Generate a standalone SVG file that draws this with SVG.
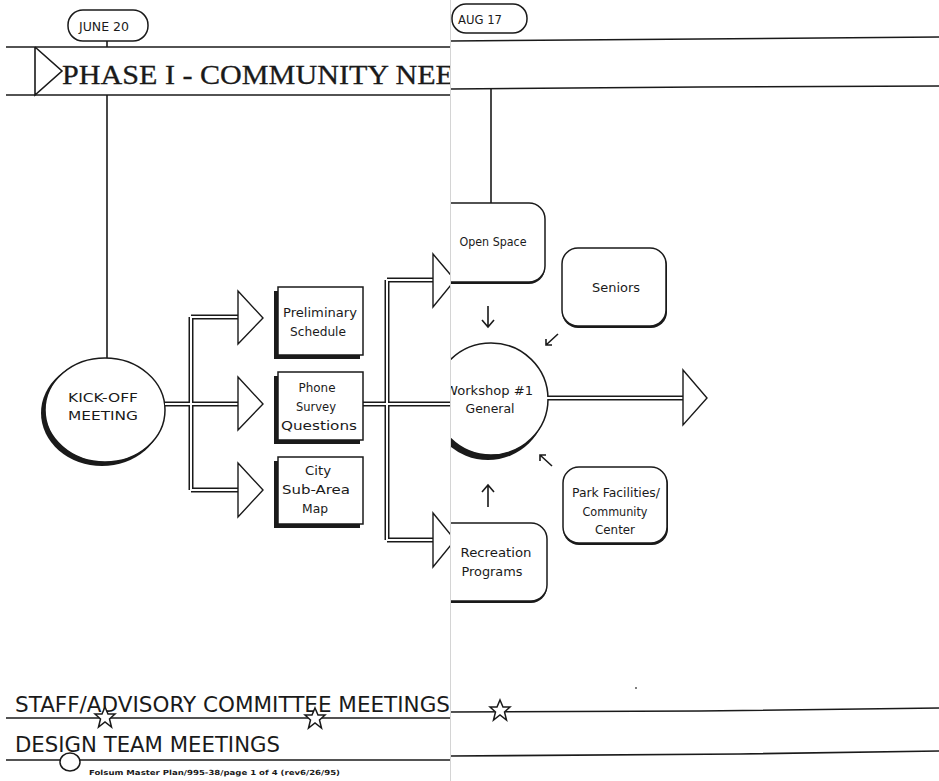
<svg xmlns="http://www.w3.org/2000/svg" width="939" height="781" viewBox="0 0 939 781">
<defs>
<style>
.ln{fill:none;stroke:#1a1a1a;stroke-width:1.6}
.dbo{fill:none;stroke:#1a1a1a;stroke-width:5;stroke-linejoin:miter}
.dbi{fill:none;stroke:#ffffff;stroke-width:2;stroke-linejoin:miter}
.ah{fill:#fff;stroke:#1a1a1a;stroke-width:1.4;stroke-linejoin:miter}
.box{fill:#fff;stroke:#1a1a1a;stroke-width:1.5}
.shd{fill:#1a1a1a}
.hand{font-family:"DejaVu Sans","Liberation Sans",sans-serif;fill:#1a1a1a;text-anchor:middle;font-size:12.5px}
.big{font-family:"DejaVu Sans","Liberation Sans",sans-serif;fill:#1a1a1a}
.serif{font-family:"Liberation Serif","DejaVu Serif",serif;fill:#1a1a1a}
</style>
<clipPath id="leftPage"><rect x="0" y="0" width="450" height="781"/></clipPath>
<clipPath id="rightPage"><rect x="451" y="0" width="488" height="781"/></clipPath>
</defs>
<rect x="0" y="0" width="939" height="781" fill="#fff"/>

<!-- LEFT PAGE -->
<g clip-path="url(#leftPage)">
  <g id="june20">
    <rect x="68" y="10" width="80" height="31" rx="15" class="box"/>
    <text x="104" y="31" class="hand" font-size="12" textLength="50" lengthAdjust="spacingAndGlyphs">JUNE 20</text>
    <line x1="107" y1="41" x2="107" y2="47" class="ln"/>
  </g>
  <g id="phase-band">
    <line x1="6" y1="47" x2="450" y2="47" class="ln"/>
    <line x1="6" y1="95" x2="450" y2="95" class="ln"/>
    <polyline points="35,47 35,95 62,71 35,47" class="ln"/>
    <text x="62" y="84" class="serif" font-size="27" stroke="#1a1a1a" stroke-width="0.3" textLength="392" lengthAdjust="spacingAndGlyphs">PHASE I - COMMUNITY NEE</text>
  </g>
  <g id="kickoff">
    <line x1="107" y1="95" x2="107" y2="358" class="ln"/>
    <ellipse cx="102" cy="413" rx="61" ry="53" class="shd"/>
    <ellipse cx="105" cy="410" rx="60" ry="52" class="box"/>
    <text x="103" y="402" class="hand" font-size="13.5" textLength="70" lengthAdjust="spacingAndGlyphs">KICK-OFF</text>
    <text x="103" y="420" class="hand" font-size="13.5" textLength="70" lengthAdjust="spacingAndGlyphs">MEETING</text>
  </g>
  <g id="connectors-left">
    <path d="M165,404 H238 M191,317 V490 M191,317 H238 M191,490 H238 M363,404 H452 M387,280 V540 M387,280 H433 M387,540 H433" class="dbo"/>
    <path d="M165,404 H238 M191,317 V490 M191,317 H238 M191,490 H238 M363,404 H452 M387,280 V540 M387,280 H433 M387,540 H433" class="dbi"/>
    <polygon points="238,291 263,318 238,344" class="ah"/>
    <polygon points="238,377 263,404 238,430" class="ah"/>
    <polygon points="238,463 263,490 238,517" class="ah"/>
    <polygon points="433,254 455,280 433,307" class="ah"/>
    <polygon points="433,513 455,540 433,567" class="ah"/>
  </g>
  <g id="prelim">
    <rect x="274" y="291" width="86" height="68" class="shd"/>
    <rect x="278" y="287" width="85" height="68" class="box"/>
    <text x="320" y="317" class="hand" textLength="74" lengthAdjust="spacingAndGlyphs">Preliminary</text>
    <text x="318" y="336" class="hand" textLength="56" lengthAdjust="spacingAndGlyphs">Schedule</text>
  </g>
  <g id="phone">
    <rect x="274" y="376" width="86" height="68" class="shd"/>
    <rect x="278" y="372" width="85" height="68" class="box"/>
    <text x="317" y="392" class="hand" textLength="37" lengthAdjust="spacingAndGlyphs">Phone</text>
    <text x="316" y="411" class="hand" textLength="40" lengthAdjust="spacingAndGlyphs">Survey</text>
    <text x="319" y="430" class="hand" textLength="76" lengthAdjust="spacingAndGlyphs">Questions</text>
  </g>
  <g id="citymap">
    <rect x="274" y="461" width="86" height="67" class="shd"/>
    <rect x="278" y="457" width="85" height="67" class="box"/>
    <text x="318" y="475" class="hand" textLength="26" lengthAdjust="spacingAndGlyphs">City</text>
    <text x="316" y="494" class="hand" textLength="68" lengthAdjust="spacingAndGlyphs">Sub-Area</text>
    <text x="315" y="513" class="hand" textLength="26" lengthAdjust="spacingAndGlyphs">Map</text>
  </g>
  <g id="staff-row">
    <text x="15" y="712" class="big" font-size="21" textLength="435" lengthAdjust="spacingAndGlyphs">STAFF/ADVISORY COMMITTEE MEETINGS</text>
    <line x1="6" y1="718" x2="450" y2="718" class="ln"/>
    <polygon points="105,707 108,714 115,714 109.5,719 111.5,727 105,722 98.5,727 100.5,719 95,714 102,714" class="box" stroke-width="1.3"/>
    <polygon points="315,708 318,715 325,715 319.5,720 321.5,728 315,723 308.5,728 310.5,720 305,715 312,715" class="box" stroke-width="1.3"/>
  </g>
  <g id="design-row">
    <text x="15" y="752" class="big" font-size="21" textLength="265" lengthAdjust="spacingAndGlyphs">DESIGN TEAM MEETINGS</text>
    <line x1="6" y1="760" x2="450" y2="760" class="ln"/>
    <ellipse cx="70" cy="762" rx="10" ry="9" class="box" stroke-width="1.6"/>
    <text x="89" y="775" class="big" font-size="7" font-weight="bold" textLength="251" lengthAdjust="spacingAndGlyphs">Folsum Master Plan/995-38/page 1 of 4 (rev6/26/95)</text>
  </g>
</g>

<!-- seam -->
<line x1="450.5" y1="0" x2="450.5" y2="781" stroke="#d4d4d4" stroke-width="1"/>

<!-- RIGHT PAGE -->
<g clip-path="url(#rightPage)">
  <g id="aug17">
    <rect x="452" y="4" width="75" height="29" rx="14" class="box"/>
    <text x="480" y="24" class="hand" font-size="11.5" textLength="44" lengthAdjust="spacingAndGlyphs">AUG 17</text>
  </g>
  <g id="right-band">
    <path d="M451,41 L700,39 L939,37" class="ln"/>
    <path d="M451,89 L700,87 L939,86" class="ln"/>
    <line x1="491" y1="89" x2="491" y2="204" class="ln"/>
  </g>
  <g id="open-space">
    <rect x="436" y="205" width="109" height="79" rx="16" class="shd"/>
    <rect x="436" y="203" width="109" height="79" rx="16" class="box"/>
    <text x="493" y="246" class="hand" font-size="12" textLength="67" lengthAdjust="spacingAndGlyphs">Open Space</text>
  </g>
  <g id="seniors">
    <rect x="562" y="250" width="105" height="78" rx="16" class="shd"/>
    <rect x="562" y="248" width="104" height="78" rx="16" class="box"/>
    <text x="616" y="292" class="hand" font-size="12" textLength="48" lengthAdjust="spacingAndGlyphs">Seniors</text>
  </g>
  <g id="workshop">
    <ellipse cx="488" cy="403" rx="58" ry="57" class="shd"/>
    <ellipse cx="491" cy="399" rx="57" ry="56" class="box"/>
    <text x="489" y="395" class="hand" textLength="88" lengthAdjust="spacingAndGlyphs">Workshop #1</text>
    <text x="490" y="413" class="hand" textLength="49" lengthAdjust="spacingAndGlyphs">General</text>
  </g>
  <g id="park">
    <rect x="563" y="469" width="105" height="76" rx="16" class="shd"/>
    <rect x="563" y="467" width="104" height="76" rx="16" class="box"/>
    <text x="616" y="497" class="hand" font-size="12" textLength="88" lengthAdjust="spacingAndGlyphs">Park Facilities/</text>
    <text x="615" y="516" class="hand" font-size="12" textLength="65" lengthAdjust="spacingAndGlyphs">Community</text>
    <text x="615" y="534" class="hand" font-size="12" textLength="40" lengthAdjust="spacingAndGlyphs">Center</text>
  </g>
  <g id="recreation">
    <rect x="436" y="525" width="111" height="78" rx="16" class="shd"/>
    <rect x="436" y="523" width="111" height="78" rx="16" class="box"/>
    <text x="496" y="557" class="hand" font-size="12.5" textLength="71" lengthAdjust="spacingAndGlyphs">Recreation</text>
    <text x="492" y="576" class="hand" font-size="12.5" textLength="61" lengthAdjust="spacingAndGlyphs">Programs</text>
  </g>
  <g id="connectors-right">
    <path d="M548,398 H683" class="dbo"/>
    <path d="M546,398 H684" class="dbi"/>
    <polygon points="683,370 707,398 683,425" class="ah"/>
    <path d="M488,306 V326 M482,320 L488,327 L494,320" class="ln" stroke-width="1.3"/>
    <path d="M558,334 L546,345 M546,339 L546,345 L552,345" class="ln" stroke-width="1.3"/>
    <path d="M552,466 L540,455 M540,461 L540,455 L546,455" class="ln" stroke-width="1.3"/>
    <path d="M488,507 V486 M482,492 L488,485 L494,492" class="ln" stroke-width="1.3"/>
  </g>
  <g id="right-rows">
    <path d="M451,712 L700,711 L939,708" class="ln"/>
    <path d="M451,756 L740,754 L939,751" class="ln"/>
    <polygon points="500,700 503,707 510,707 504.5,712 506.5,720 500,715 493.5,720 495.5,712 490,707 497,707" class="box" stroke-width="1.3"/>
    <circle cx="636" cy="688" r="1" fill="#555"/>
  </g>
</g>
</svg>
